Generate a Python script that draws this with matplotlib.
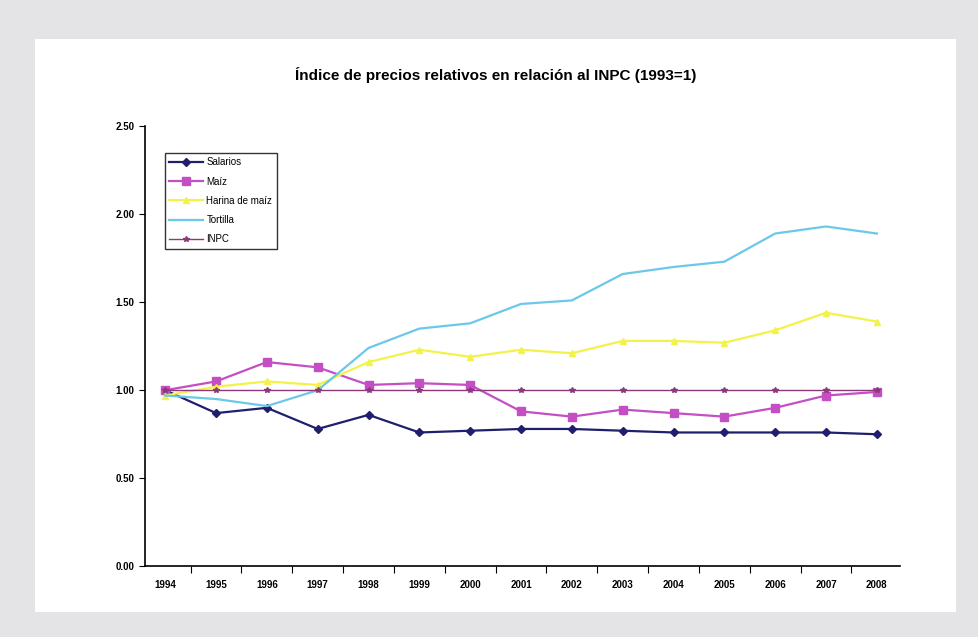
import matplotlib.pyplot as plt
from matplotlib.patches import Rectangle

years = ["1994", "1995", "1996", "1997", "1998", "1999", "2000", "2001",
         "2002", "2003", "2004", "2005", "2006", "2007", "2008"]

salarios = [1.00, 0.87, 0.90, 0.78, 0.86, 0.76, 0.77, 0.78, 0.78, 0.77, 0.76, 0.76, 0.76, 0.76, 0.75]
maiz = [1.00, 1.05, 1.16, 1.13, 1.03, 1.04, 1.03, 0.88, 0.85, 0.89, 0.87, 0.85, 0.90, 0.97, 0.99]
harina = [0.97, 1.02, 1.05, 1.03, 1.16, 1.23, 1.19, 1.23, 1.21, 1.28, 1.28, 1.27, 1.34, 1.44, 1.39]
tortilla = [0.97, 0.95, 0.91, 1.00, 1.24, 1.35, 1.38, 1.49, 1.51, 1.66, 1.70, 1.73, 1.89, 1.93, 1.89]
inpc = [1.00] * 15

plt.rcParams['font.family'] = ['Liberation Sans', 'DejaVu Sans']

fig = plt.figure(figsize=(9.79, 6.37), dpi=100)
fig.patch.set_facecolor("#e4e3e6")

# white panel behind the chart
bg = fig.add_axes([0, 0, 1, 1], zorder=0)
bg.axis("off")
bg.add_patch(Rectangle((0.036, 0.040), 0.941, 0.898, transform=bg.transAxes,
                       facecolor="white", edgecolor="none"))

ax = fig.add_axes([0.148, 0.111, 0.771, 0.691], zorder=1)
ax.set_facecolor("none")
x = range(len(years))

ax.plot(x, salarios, color="#1f1f6e", marker="D", markersize=4, lw=1.6, label="Salarios")
ax.plot(x, maiz, color="#c44fc4", marker="s", markersize=6, lw=1.6, label="Maíz")
ax.plot(x, harina, color="#f2f24a", marker="^", markersize=5, lw=1.6, label="Harina de maíz")
ax.plot(x, tortilla, color="#6cc8e8", lw=1.6, label="Tortilla")
ax.plot(x, inpc, color="#8a3a7a", marker="*", markersize=4, lw=1.0, label="INPC")

ax.set_xlim(-0.4, len(years) - 0.55)
ax.set_ylim(0, 2.5)
ax.set_yticks([0, 0.5, 1.0, 1.5, 2.0, 2.5])
ax.set_yticklabels(["%.2f" % v for v in [0, 0.5, 1.0, 1.5, 2.0, 2.5]],
                   fontsize=7, fontweight="bold")
ax.set_xticks([i + 0.5 for i in range(len(years) - 1)])
ax.set_xticklabels([])
ax.set_xticks(list(x), minor=True)
ax.set_xticklabels(years, minor=True, fontsize=7, fontweight="bold")
ax.tick_params(axis="x", which="minor", length=0, pad=10)
ax.tick_params(axis="x", which="major", length=5, direction="out")
ax.tick_params(axis="y", length=4, direction="out")
for s in ["top", "right"]:
    ax.spines[s].set_visible(False)
for s in ["left", "bottom"]:
    ax.spines[s].set_linewidth(1.2)

fig.text(0.506, 0.882, "Índice de precios relativos en relación al INPC (1993=1)",
         ha="center", va="center", fontsize=11, fontweight="bold")

leg = ax.legend(loc="upper left", bbox_to_anchor=(0.026, 0.94), fontsize=7,
                frameon=True, fancybox=False, edgecolor="black", handlelength=3.5,
                labelspacing=0.95, borderpad=0.5, handletextpad=0.3, borderaxespad=0)
leg.get_frame().set_linewidth(1.0)

fig.savefig("out.png", dpi=100, facecolor=fig.get_facecolor())
